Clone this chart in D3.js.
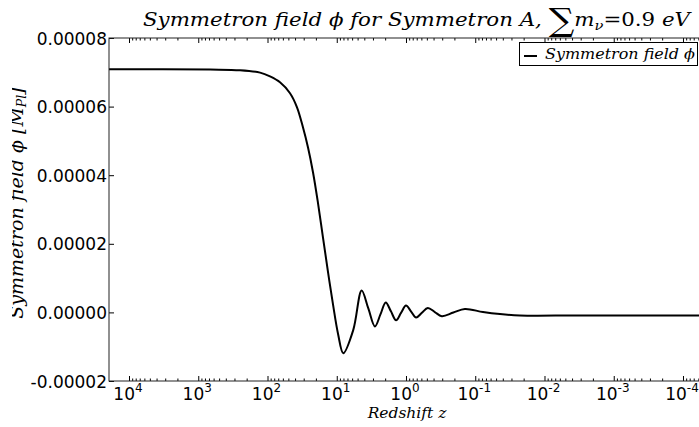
<!DOCTYPE html>
<html><head><meta charset="utf-8">
<script src="https://cdn.jsdelivr.net/npm/d3@7"></script>
<style>
html,body{margin:0;padding:0;background:#fff;}
svg{display:block;}
</style></head>
<body>
<svg id="chart" width="699" height="427"></svg>
<script>
// Redshift values (x) and symmetron field values (y)
const zValues = [19450, 676, 249, 128, 92, 66.0, 47.3, 37.5, 30.7, 26.0, 22.0, 18.7, 15.8, 13.4, 11.3, 9.59, 8.04, 5.77, 4.37, 3.50, 2.81, 2.34, 1.96, 1.65, 1.39, 1.18, 1.0, 0.843, 0.714, 0.589, 0.484, 0.384, 0.304, 0.207, 0.141, 0.0773, 0.0440, 0.0226, 0.00316, 4.81e-5];
const phiValues = [7.09e-5, 7.08e-5, 7.06e-5, 6.99e-5, 6.88e-5, 6.71e-5, 6.39e-5, 5.98e-5, 5.39e-5, 4.81e-5, 4.08e-5, 3.20e-5, 2.18e-5, 1.19e-5, 2.2e-6, -6.2e-6, -1.19e-5, -5.1e-6, 6.4e-6, 1.15e-6, -4.1e-6, -0.6e-6, 2.9e-6, 0.3e-6, -2.3e-6, -0.15e-6, 2.0e-6, 0.25e-6, -1.5e-6, -0.1e-6, 1.3e-6, 0.1e-6, -1.1e-6, -0.05e-6, 1.0e-6, 0.1e-6, -0.5e-6, -0.9e-6, -0.9e-6, -0.9e-6];
const xDomain = [1.945e4, 4.81e-5];
const yDomain = [-0.00002, 0.00008];
const xTickExponents = [4, 3, 2, 1, 0, -1, -2, -3, -4];
const yTickValues = [-0.00002, 0.00000, 0.00002, 0.00004, 0.00006, 0.00008];

const svg = d3.select("#chart");
const L = 109, R = 705, T = 38, B = 381;
const x = d3.scaleLog().domain(xDomain).range([L, R]);
const y = d3.scaleLinear().domain(yDomain).range([B, T]);

const majors = xTickExponents.map(e => Math.pow(10, e));
const minors = [];
for (let e = -5; e <= 4; e++) for (let k = 2; k <= 9; k++) {
  const v = k * Math.pow(10, e);
  if (v <= xDomain[0] && v >= xDomain[1]) minors.push(v);
}

const defs = svg.append("defs");
defs.append("clipPath").attr("id","clip")
  .append("rect").attr("x",L).attr("y",T).attr("width",R-L).attr("height",B-T);
defs.append("clipPath").attr("id","clipY")
  .append("rect").attr("x",12).attr("y",0).attr("width",60).attr("height",427);

// curve
const line = d3.line().x(d => x(d[0])).y(d => y(d[1])).curve(d3.curveCatmullRom.alpha(0.5));
svg.append("path").datum(zValues.map((z,i)=>[z, phiValues[i]]))
  .attr("clip-path","url(#clip)")
  .attr("d", line).attr("fill","none").attr("stroke","#000").attr("stroke-width",2)
  .attr("stroke-linejoin","round");

function styleAxis(g){
  g.select(".domain").remove();
  g.selectAll(".tick line").attr("stroke","#000").attr("stroke-width",1);
}
// bottom major
const gb = svg.append("g").attr("transform",`translate(0,${B})`)
  .call(d3.axisBottom(x).tickValues(majors).tickSize(-5).tickFormat(() => ""));
styleAxis(gb);
gb.selectAll(".tick text").each(function(d){
  const t = d3.select(this);
  t.attr("x", -1.5).attr("y", 18.5).attr("dy", 0).attr("fill","#000")
   .style("font-family","'DejaVu Sans'").style("font-size","17px");
  const e = Math.round(Math.log10(d));
  t.append("tspan").text("10");
  t.append("tspan").attr("dy",-7.5).style("font-size","12px").text(String(e));
});
// bottom minor
const gbm = svg.append("g").attr("transform",`translate(0,${B})`)
  .call(d3.axisBottom(x).tickValues(minors).tickSize(-2.5).tickFormat(() => ""));
styleAxis(gbm);
// top major & minor
const gt = svg.append("g").attr("transform",`translate(0,${T})`)
  .call(d3.axisTop(x).tickValues(majors).tickSize(-5).tickFormat(() => ""));
styleAxis(gt);
const gtm = svg.append("g").attr("transform",`translate(0,${T})`)
  .call(d3.axisTop(x).tickValues(minors).tickSize(-2.5).tickFormat(() => ""));
styleAxis(gtm);
// left
const gl = svg.append("g").attr("transform",`translate(${L},0)`)
  .call(d3.axisLeft(y).tickValues(yTickValues).tickSize(-5).tickPadding(2)
    .tickFormat(d => d.toFixed(5)));
styleAxis(gl);
gl.selectAll(".tick text").attr("fill","#000").attr("dy","0.36em")
  .style("font-family","'DejaVu Sans'").style("font-size","17px");
// right
const gr = svg.append("g").attr("transform",`translate(${R},0)`)
  .call(d3.axisRight(y).tickValues(yTickValues).tickSize(-5).tickFormat(() => ""));
styleAxis(gr);

// frame
svg.append("rect").attr("x",L).attr("y",T).attr("width",R-L).attr("height",B-T)
  .attr("fill","none").attr("stroke","#222").attr("stroke-width",1);

// title
const title = svg.append("text").attr("x",143).attr("y",26)
  .attr("textLength",547).attr("lengthAdjust","spacingAndGlyphs")
  .style("font-family","'DejaVu Serif'").style("font-size","19px").attr("fill","#000");
title.append("tspan").style("font-style","italic").text("Symmetron field ϕ for Symmetron A, ");
title.append("tspan").attr("dy",5).style("font-size","32px").text("∑");
title.append("tspan").attr("dy",-5).style("font-style","italic").text("m");
title.append("tspan").attr("dy",4).style("font-style","italic").style("font-size","13px").text("ν");
title.append("tspan").attr("dy",-4).text("=0.9 ");
title.append("tspan").style("font-style","italic").text("eV");

// x label
svg.append("text").attr("x",407).attr("y",418).attr("text-anchor","middle")
  .style("font-family","'DejaVu Serif'").style("font-style","italic").style("font-size","15.5px")
  .attr("fill","#000").text("Redshift z");

// y label (cut by the figure edge in the reference)
const ylg = svg.append("g").attr("clip-path","url(#clipY)");
const yl = ylg.append("text")
  .attr("transform","translate(23,203) rotate(-90)")
  .attr("text-anchor","middle")
  .style("font-family","'DejaVu Serif'").style("font-style","italic").style("font-size","19px")
  .attr("fill","#000");
yl.append("tspan").text("Symmetron field ϕ [M");
yl.append("tspan").attr("dy",3).style("font-size","12.5px").text("Pl");
yl.append("tspan").attr("dy",-3).text("]");

// legend
const lg = svg.append("g");
lg.append("rect").attr("x",519.5).attr("y",42.5).attr("width",178).attr("height",23)
  .attr("fill","#fff").attr("stroke","#000").attr("stroke-width",1);
lg.append("line").attr("x1",524).attr("x2",537).attr("y1",56).attr("y2",56)
  .attr("stroke","#000").attr("stroke-width",2);
lg.append("text").attr("x",545).attr("y",59).attr("textLength",150).attr("lengthAdjust","spacingAndGlyphs")
  .style("font-family","'DejaVu Serif'").style("font-style","italic").style("font-size","15px")
  .attr("fill","#000").text("Symmetron field ϕ");
</script>
</body></html>
